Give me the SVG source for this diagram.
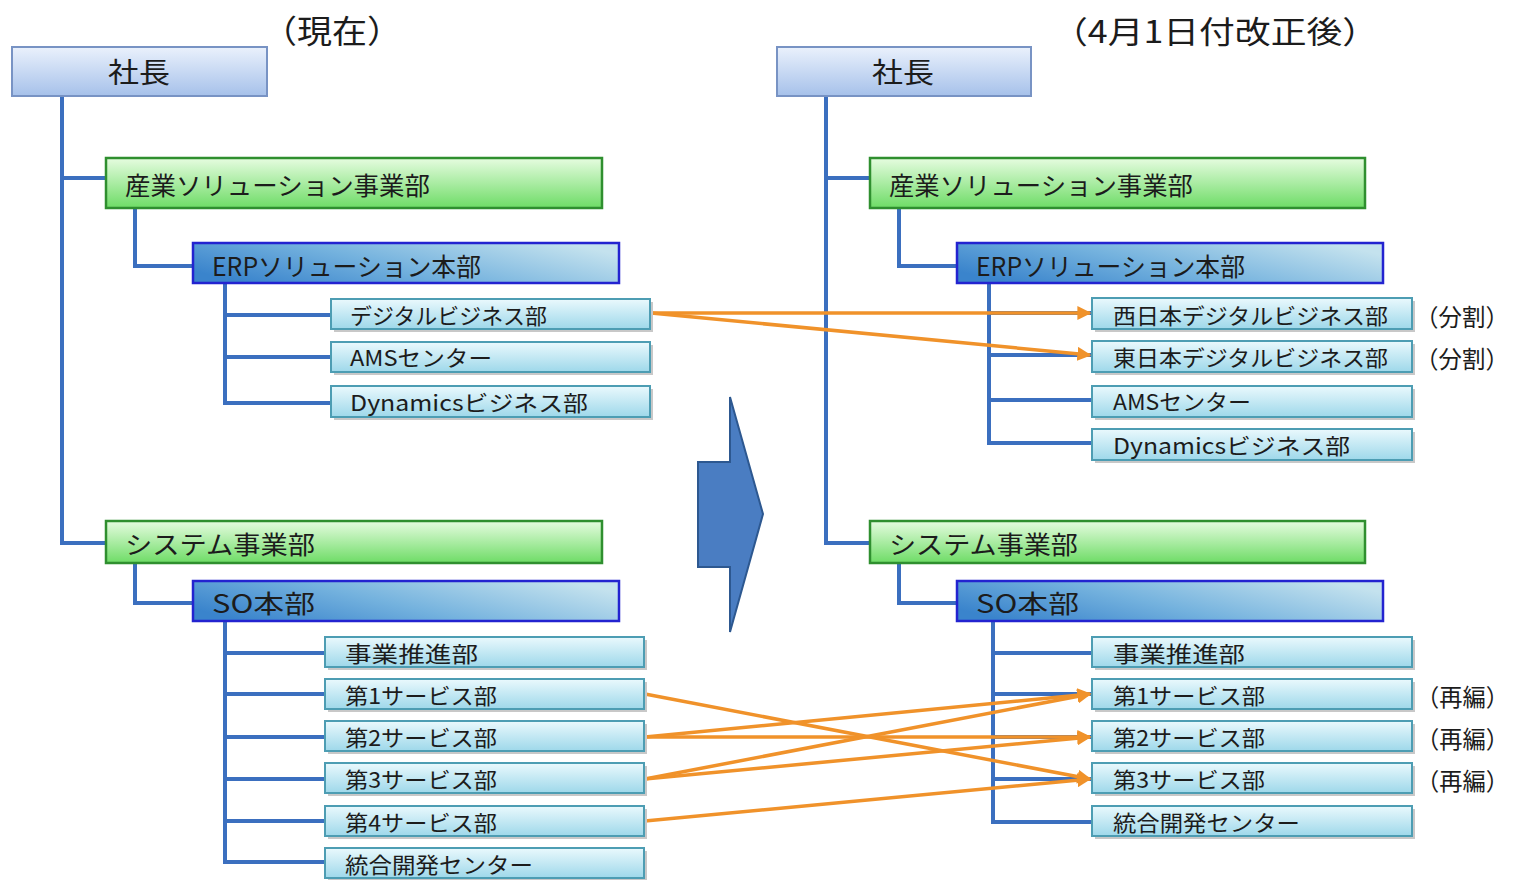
<svg xmlns="http://www.w3.org/2000/svg" width="1514" height="880" viewBox="0 0 1514 880">
<defs>
<linearGradient id="gTop" x1="0" y1="0" x2="0" y2="1"><stop offset="0" stop-color="#eaf1fc"/><stop offset="1" stop-color="#a6c1ea"/></linearGradient>
<linearGradient id="gGreen" x1="0" y1="0" x2="0" y2="1"><stop offset="0" stop-color="#e6fce0"/><stop offset="1" stop-color="#6edc66"/></linearGradient>
<linearGradient id="gHq" x1="0" y1="0.7" x2="1" y2="0.3"><stop offset="0" stop-color="#3a84cc"/><stop offset="0.45" stop-color="#74b2de"/><stop offset="1" stop-color="#c4e2ee"/></linearGradient>
<linearGradient id="gDept" x1="0" y1="0" x2="0" y2="1"><stop offset="0" stop-color="#eaf9fd"/><stop offset="1" stop-color="#9ed8ea"/></linearGradient>
<marker id="arr" viewBox="0 0 10 10" refX="9" refY="5" markerWidth="4" markerHeight="4" orient="auto" markerUnits="strokeWidth"><path d="M0,0 L10,5 L0,10 z" fill="#f0922a"/></marker>
<style>
.t{font-family:"Noto Sans CJK JP","Noto Sans",sans-serif;fill:#1c1c1c;}
.top{fill:url(#gTop);stroke:#7893c4;stroke-width:2;}
.grn{fill:url(#gGreen);stroke:#2f8f2f;stroke-width:2.5;}
.hq{fill:url(#gHq);stroke:#2323d0;stroke-width:2.5;}
.dep{fill:url(#gDept);stroke:#4d9db3;stroke-width:2;}
.sh{fill:#c8c8c8;}
.ln{fill:none;stroke:#3b6fbf;stroke-width:4;}
.or{fill:none;stroke:#f0922a;stroke-width:3.5;marker-end:url(#arr);}
</style>
</defs>
<rect width="1514" height="880" fill="#ffffff"/>

<text class="t" x="262" y="43" font-size="32" textLength="140" lengthAdjust="spacingAndGlyphs">（現在）</text>
<text class="t" x="1052" y="43" font-size="31" textLength="326" lengthAdjust="spacingAndGlyphs">（4月1日付改正後）</text>

<g id="connectors">
<path class="ln" d="M62,96 V543 H107 M62,178 H107"/>
<path class="ln" d="M135,208 V266 H194"/>
<path class="ln" d="M225,283 V403 H333 M225,315 H333 M225,357 H333"/>
<path class="ln" d="M135,563 V603 H194"/>
<path class="ln" d="M225,621 V862 H327 M225,653 H327 M225,694 H327 M225,737 H327 M225,779 H327 M225,821 H327"/>
<path class="ln" d="M826,96 V543 H871 M826,178 H871"/>
<path class="ln" d="M899,208 V266 H958"/>
<path class="ln" d="M989,283 V443 H1094 M989,313 H1094 M989,355 H1094 M989,400 H1094"/>
<path class="ln" d="M899,563 V603 H958"/>
<path class="ln" d="M993,621 V822 H1094 M993,653 H1094 M993,694 H1094 M993,737 H1094 M993,779 H1094"/>
<line class="or" x1="651" y1="313" x2="1090" y2="313"/>
<line class="or" x1="651" y1="313" x2="1090" y2="355"/>
<line class="or" x1="645" y1="694" x2="1090" y2="779"/>
<line class="or" x1="645" y1="737" x2="1090" y2="694"/>
<line class="or" x1="645" y1="737" x2="1090" y2="737"/>
<line class="or" x1="645" y1="779" x2="1090" y2="694"/>
<line class="or" x1="645" y1="779" x2="1090" y2="737"/>
<line class="or" x1="645" y1="821" x2="1090" y2="779"/>
</g>

<g id="bigArrow"><polygon points="698,462 730,462 730,397 763,514 730,632 730,567 698,567" fill="#4a7dc2" stroke="#2d5890" stroke-width="2"/></g>

<!-- Left tree -->
<g id="L-president"><rect class="top" x="12" y="47" width="255" height="49"/><text class="t" x="108" y="83" font-size="28" textLength="62" lengthAdjust="spacingAndGlyphs">社長</text></g>
<g id="L-sangyo"><rect class="grn" x="106" y="158" width="496" height="50"/><text class="t" x="125" y="195" font-size="25" textLength="305" lengthAdjust="spacingAndGlyphs">産業ソリューション事業部</text></g>
<g id="L-erp"><rect class="hq" x="193" y="243" width="426" height="40"/><text class="t" x="212" y="276" font-size="25" textLength="269" lengthAdjust="spacingAndGlyphs">ERPソリューション本部</text></g>
<g id="L-digital"><rect class="sh" x="334" y="302" width="319" height="30"/><rect class="dep" x="331" y="299" width="319" height="30"/><text class="t" x="350" y="324" font-size="22" textLength="197" lengthAdjust="spacingAndGlyphs">デジタルビジネス部</text></g>
<g id="L-ams"><rect class="sh" x="334" y="345" width="319" height="30"/><rect class="dep" x="331" y="342" width="319" height="30"/><text class="t" x="350" y="366" font-size="22" textLength="142" lengthAdjust="spacingAndGlyphs">AMSセンター</text></g>
<g id="L-dynamics"><rect class="sh" x="334" y="389" width="319" height="31"/><rect class="dep" x="331" y="386" width="319" height="31"/><text class="t" x="350" y="411" font-size="22" textLength="238" lengthAdjust="spacingAndGlyphs">Dynamicsビジネス部</text></g>
<g id="L-system"><rect class="grn" x="106" y="521" width="496" height="42"/><text class="t" x="125" y="554" font-size="25" textLength="190" lengthAdjust="spacingAndGlyphs">システム事業部</text></g>
<g id="L-so"><rect class="hq" x="193" y="581" width="426" height="40"/><text class="t" x="212" y="613" font-size="25" textLength="103" lengthAdjust="spacingAndGlyphs">SO本部</text></g>
<g id="L-suishin"><rect class="sh" x="328" y="640" width="319" height="30"/><rect class="dep" x="325" y="637" width="319" height="30"/><text class="t" x="345" y="662" font-size="22" textLength="133" lengthAdjust="spacingAndGlyphs">事業推進部</text></g>
<g id="L-s1"><rect class="sh" x="328" y="682" width="319" height="30"/><rect class="dep" x="325" y="679" width="319" height="30"/><text class="t" x="345" y="704" font-size="22" textLength="152" lengthAdjust="spacingAndGlyphs">第1サービス部</text></g>
<g id="L-s2"><rect class="sh" x="328" y="724" width="319" height="30"/><rect class="dep" x="325" y="721" width="319" height="30"/><text class="t" x="345" y="746" font-size="22" textLength="152" lengthAdjust="spacingAndGlyphs">第2サービス部</text></g>
<g id="L-s3"><rect class="sh" x="328" y="766" width="319" height="30"/><rect class="dep" x="325" y="763" width="319" height="30"/><text class="t" x="345" y="788" font-size="22" textLength="152" lengthAdjust="spacingAndGlyphs">第3サービス部</text></g>
<g id="L-s4"><rect class="sh" x="328" y="809" width="319" height="30"/><rect class="dep" x="325" y="806" width="319" height="30"/><text class="t" x="345" y="831" font-size="22" textLength="152" lengthAdjust="spacingAndGlyphs">第4サービス部</text></g>
<g id="L-togo"><rect class="sh" x="328" y="851" width="319" height="30"/><rect class="dep" x="325" y="848" width="319" height="30"/><text class="t" x="345" y="873" font-size="22" textLength="188" lengthAdjust="spacingAndGlyphs">統合開発センター</text></g>

<!-- Right tree -->
<g id="R-president"><rect class="top" x="777" y="47" width="254" height="49"/><text class="t" x="872" y="83" font-size="28" textLength="62" lengthAdjust="spacingAndGlyphs">社長</text></g>
<g id="R-sangyo"><rect class="grn" x="870" y="158" width="495" height="50"/><text class="t" x="889" y="195" font-size="25" textLength="304" lengthAdjust="spacingAndGlyphs">産業ソリューション事業部</text></g>
<g id="R-erp"><rect class="hq" x="957" y="243" width="426" height="40"/><text class="t" x="976" y="276" font-size="25" textLength="269" lengthAdjust="spacingAndGlyphs">ERPソリューション本部</text></g>
<g id="R-west"><rect class="sh" x="1095" y="301" width="320" height="31"/><rect class="dep" x="1092" y="298" width="320" height="31"/><text class="t" x="1113" y="324" font-size="22" textLength="275" lengthAdjust="spacingAndGlyphs">西日本デジタルビジネス部</text></g>
<g id="R-east"><rect class="sh" x="1095" y="344" width="320" height="31"/><rect class="dep" x="1092" y="341" width="320" height="31"/><text class="t" x="1113" y="366" font-size="22" textLength="275" lengthAdjust="spacingAndGlyphs">東日本デジタルビジネス部</text></g>
<g id="R-ams"><rect class="sh" x="1095" y="389" width="320" height="31"/><rect class="dep" x="1092" y="386" width="320" height="31"/><text class="t" x="1113" y="410" font-size="22" textLength="138" lengthAdjust="spacingAndGlyphs">AMSセンター</text></g>
<g id="R-dynamics"><rect class="sh" x="1095" y="432" width="320" height="31"/><rect class="dep" x="1092" y="429" width="320" height="31"/><text class="t" x="1113" y="454" font-size="22" textLength="237" lengthAdjust="spacingAndGlyphs">Dynamicsビジネス部</text></g>
<g id="R-system"><rect class="grn" x="870" y="521" width="495" height="42"/><text class="t" x="889" y="554" font-size="25" textLength="189" lengthAdjust="spacingAndGlyphs">システム事業部</text></g>
<g id="R-so"><rect class="hq" x="957" y="581" width="426" height="40"/><text class="t" x="976" y="613" font-size="25" textLength="103" lengthAdjust="spacingAndGlyphs">SO本部</text></g>
<g id="R-suishin"><rect class="sh" x="1095" y="640" width="320" height="30"/><rect class="dep" x="1092" y="637" width="320" height="30"/><text class="t" x="1113" y="662" font-size="22" textLength="132" lengthAdjust="spacingAndGlyphs">事業推進部</text></g>
<g id="R-s1"><rect class="sh" x="1095" y="682" width="320" height="30"/><rect class="dep" x="1092" y="679" width="320" height="30"/><text class="t" x="1113" y="704" font-size="22" textLength="152" lengthAdjust="spacingAndGlyphs">第1サービス部</text></g>
<g id="R-s2"><rect class="sh" x="1095" y="724" width="320" height="30"/><rect class="dep" x="1092" y="721" width="320" height="30"/><text class="t" x="1113" y="746" font-size="22" textLength="152" lengthAdjust="spacingAndGlyphs">第2サービス部</text></g>
<g id="R-s3"><rect class="sh" x="1095" y="766" width="320" height="30"/><rect class="dep" x="1092" y="763" width="320" height="30"/><text class="t" x="1113" y="788" font-size="22" textLength="152" lengthAdjust="spacingAndGlyphs">第3サービス部</text></g>
<g id="R-togo"><rect class="sh" x="1095" y="809" width="320" height="30"/><rect class="dep" x="1092" y="806" width="320" height="30"/><text class="t" x="1113" y="831" font-size="22" textLength="187" lengthAdjust="spacingAndGlyphs">統合開発センター</text></g>

<g id="notes">
<text class="t" x="1415" y="326" font-size="24" textLength="94" lengthAdjust="spacingAndGlyphs">（分割）</text>
<text class="t" x="1415" y="368" font-size="24" textLength="94" lengthAdjust="spacingAndGlyphs">（分割）</text>
<text class="t" x="1416" y="706" font-size="24" textLength="93" lengthAdjust="spacingAndGlyphs">（再編）</text>
<text class="t" x="1416" y="748" font-size="24" textLength="93" lengthAdjust="spacingAndGlyphs">（再編）</text>
<text class="t" x="1416" y="790" font-size="24" textLength="93" lengthAdjust="spacingAndGlyphs">（再編）</text>
</g>
</svg>
